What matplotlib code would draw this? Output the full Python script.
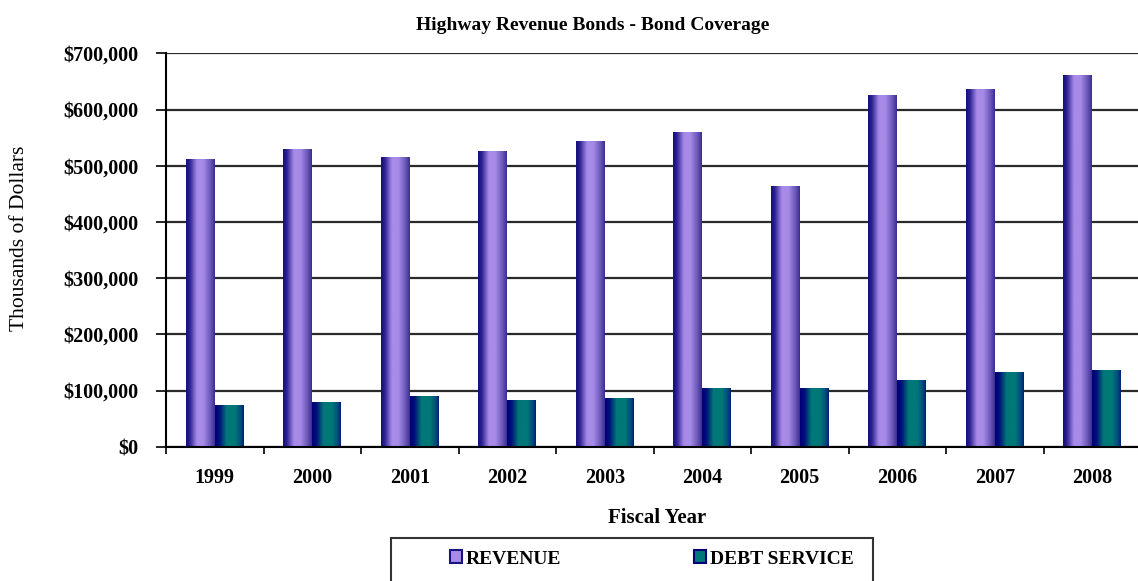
import numpy as np
import matplotlib
matplotlib.use("Agg")
import matplotlib.pyplot as plt
from matplotlib.colors import LinearSegmentedColormap
from matplotlib.patches import Rectangle, Patch
from matplotlib.ticker import FuncFormatter

# data (thousands of dollars)
years = ['1999', '2000', '2001', '2002', '2003', '2004', '2005', '2006', '2007', '2008']
revenue = [512000, 530000, 515000, 525000, 543000, 560000, 463000, 625000, 636000, 661000]
debt_service = [74000, 80000, 89000, 83000, 86000, 104000, 104000, 118000, 133000, 136000]

plt.rcParams['font.family'] = ['Liberation Serif', 'DejaVu Serif']

fig = plt.figure(figsize=(11.38, 5.81), dpi=100)
ax = fig.add_axes([166 / 1138, 1 - 446.7 / 581, 975 / 1138, (446.7 - 53.3) / 581])

x = np.arange(len(years))
w = 0.295
b1 = ax.bar(x - w / 2, revenue, w, color='#a88be8', zorder=3)
b2 = ax.bar(x + w / 2, debt_service, w, color='#007a7a', zorder=3)

# cylinder-ish horizontal shading like the original
rev_cmap = LinearSegmentedColormap.from_list('rev', [(0, '#14107a'), (0.12, '#2a2090'), (0.38, '#a88be8'),
                                                      (0.6, '#a88be8'), (0.85, '#6a58b8'), (1, '#3c2e90')])
debt_cmap = LinearSegmentedColormap.from_list('debt', [(0, '#000078'), (0.15, '#00107a'), (0.4, '#007878'),
                                                        (0.7, '#007878'), (0.9, '#004a7c'), (1, '#00207a')])
grad = np.linspace(0, 1, 64).reshape(1, -1)
for bars, cm in ((b1, rev_cmap), (b2, debt_cmap)):
    for r in bars:
        x0, wd, h = r.get_x(), r.get_width(), r.get_height()
        ax.imshow(grad, cmap=cm, aspect='auto', extent=(x0, x0 + wd, 0, h), zorder=4, interpolation='bilinear')

ax.set_xlim(-0.5, 9.5)
ax.set_ylim(0, 700000)
ax.set_yticks(np.arange(0, 700001, 100000))
ax.yaxis.set_major_formatter(FuncFormatter(lambda v, p: '${:,.0f}'.format(v)))
ax.grid(axis='y', color='#2a2a2a', linewidth=1.6, zorder=1)

ax.set_xticks(np.arange(-0.5, 10, 1))
ax.set_xticklabels([])
ax.set_xticks(x, minor=True)
ax.set_xticklabels(years, minor=True, fontsize=14.5, fontweight='bold')
ax.tick_params(axis='x', which='major', direction='out', length=5, width=1.2, color='black')
ax.tick_params(axis='x', which='minor', length=0, pad=15)
ax.tick_params(axis='y', direction='out', length=7, width=1.2, pad=13, labelsize=14.5)
for lab in ax.get_yticklabels():
    lab.set_fontweight('bold')

for s in ('top', 'right'):
    ax.spines[s].set_visible(False)
ax.spines['left'].set_linewidth(1.5)
ax.spines['bottom'].set_linewidth(1.5)
ax.spines['left'].set_zorder(5)
ax.spines['bottom'].set_zorder(5)

fig.text(593 / 1138, 1 - 26 / 581, 'Highway Revenue Bonds - Bond Coverage', ha='center', va='center',
         fontsize=14, fontweight='bold')
fig.text(20 / 1138, 1 - 238 / 581, 'Thousands of Dollars', rotation=90, ha='center', va='center', fontsize=15.5)
fig.text(657 / 1138, 1 - 518 / 581, 'Fiscal Year', ha='center', va='center', fontsize=15, fontweight='bold')

# legend box running off the bottom edge
fig.patches.append(Rectangle((391 / 1138, -0.05), (873 - 391) / 1138, 0.05 + (581 - 538) / 581,
                             transform=fig.transFigure, fill=False, edgecolor='#333333', linewidth=1.5))
handles = [Patch(facecolor='#a88be8', edgecolor='#1a1480', linewidth=1.5, label='REVENUE'),
           Patch(facecolor='#007878', edgecolor='#000078', linewidth=1.5, label='DEBT SERVICE')]
fig.legend(handles=handles, loc='center', bbox_to_anchor=(652 / 1138, 1 - 559 / 581), ncol=2, frameon=False,
           handlelength=0.6, handleheight=0.6, handletextpad=0.2, columnspacing=6.85,
           prop={'weight': 'bold', 'size': 14})

fig.savefig('out.png', dpi=100)
